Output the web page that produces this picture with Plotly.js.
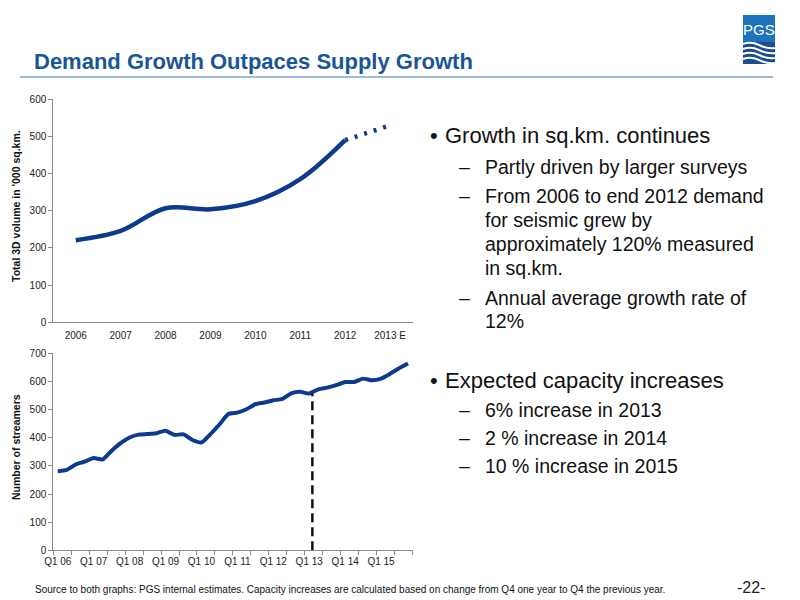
<!DOCTYPE html>
<html>
<head>
<meta charset="utf-8">
<script src="https://cdn.plot.ly/plotly-3.0.1.min.js"></script>
<style>html,body{margin:0;padding:0;background:#fff;}#chart{width:800px;height:600px;}</style>
</head>
<body>
<div id="chart"></div>
<script>
// ---- Data ----
const years = ["2006", "2007", "2008", "2009", "2010", "2011", "2012", "2013 E"];
const volumeActual = [221, 246, 307, 304, 326, 385, 490];      // '000 sq.km., 2006-2012
const volumeEstimate = [490, 530];                              // 2012 -> 2013 E
const quarters = [
  "Q1 06","Q2 06","Q3 06","Q4 06","Q1 07","Q2 07","Q3 07","Q4 07",
  "Q1 08","Q2 08","Q3 08","Q4 08","Q1 09","Q2 09","Q3 09","Q4 09",
  "Q1 10","Q2 10","Q3 10","Q4 10","Q1 11","Q2 11","Q3 11","Q4 11",
  "Q1 12","Q2 12","Q3 12","Q4 12","Q1 13","Q2 13","Q3 13","Q4 13",
  "Q1 14","Q2 14","Q3 14","Q4 14","Q1 15","Q2 15","Q3 15","Q4 15"
];
const streamers = [281, 286, 305, 315, 328, 323, 354, 381, 401, 411, 413, 416, 425, 410, 412, 392,
                   383, 413, 447, 484, 489, 501, 519, 525, 533, 538, 558, 563, 557, 572, 578, 587,
                   598, 598, 610, 604, 610, 627, 647, 664];
const quarterTickLabels = ["Q1 06","Q1 07","Q1 08","Q1 09","Q1 10","Q1 11","Q1 12","Q1 13","Q1 14","Q1 15"];
const dividerQuarter = "Q1 13";
const bullets1 = ["Growth in sq.km. continues"];
const sub1 = [
  ["Partly driven by larger surveys"],
  ["From 2006 to end 2012 demand", "for seismic grew by", "approximately 120% measured", "in sq.km."],
  ["Annual average growth rate of", "12%"]
];
const bullets2 = ["Expected capacity increases"];
const sub2 = [["6% increase in 2013"], ["2 % increase in 2014"], ["10 % increase in 2015"]];

// ---- Helpers ----
const W = 800, H = 600;
const fx = x => x / W;
const fy = y => 1 - y / H;
const FONT = "Liberation Sans, Arial, sans-serif";
const BLUE = "#0b3a8e";
const AXIS = "#8a8a8a";

const qIdx = quarters.map((q, i) => i);
const tickIdx = quarterTickLabels.map(l => quarters.indexOf(l));
const divX = quarters.indexOf(dividerQuarter) + 0.35;
const divTop = streamers[quarters.indexOf(dividerQuarter)];

const traces = [
  {x: years.slice(0, volumeActual.length), y: volumeActual, xaxis: "x", yaxis: "y",
   type: "scatter", mode: "lines", line: {color: BLUE, width: 4.5, shape: "spline", smoothing: 1}, hoverinfo: "skip"},
  {x: years.slice(volumeActual.length - 1), y: volumeEstimate, xaxis: "x", yaxis: "y",
   type: "scatter", mode: "lines", line: {color: BLUE, width: 4.5, dash: "3px,7px"}, hoverinfo: "skip"},
  {x: qIdx, y: streamers, xaxis: "x2", yaxis: "y2",
   type: "scatter", mode: "lines", line: {color: BLUE, width: 4, shape: "spline", smoothing: 0.6}, hoverinfo: "skip"}
];

const tickFont = {family: FONT, size: 10, color: "#222"};

const annotations = [];
function ann(text, x, y, size, opts) {
  annotations.push(Object.assign({
    text: text, x: fx(x), y: fy(y), xref: "paper", yref: "paper",
    xanchor: "left", yanchor: "middle", showarrow: false,
    font: {family: FONT, size: size, color: "#111"}
  }, opts || {}));
}
// Title
ann("<b>Demand Growth Outpaces Supply Growth</b>", 32, 62, 22, {font: {family: FONT, size: 22, color: "#1a5696"}});
// Right side text
const bulletX = 428, textX = 443, dashX = 457, subX = 483;
ann("•", bulletX, 135, 22); ann(bullets1[0], textX, 135, 22);
const ys1 = [[167], [196, 220, 244, 268], [298, 321]];
sub1.forEach((lines, i) => {
  ann("–", dashX, ys1[i][0], 19.5);
  lines.forEach((l, j) => ann(l, subX, ys1[i][j], 19.5));
});
ann("•", bulletX, 380, 22); ann(bullets2[0], textX, 380, 22);
const ys2 = [410, 438, 466];
sub2.forEach((lines, i) => { ann("–", dashX, ys2[i], 19.5); ann(lines[0], subX, ys2[i], 19.5); });
// Axis titles
ann("<b>Total 3D volume in '000 sq.km.</b>", 16, 206, 10.5, {textangle: -90, xanchor: "center"});
ann("<b>Number of streamers</b>", 16, 447, 10.5, {textangle: -90, xanchor: "center"});
// Footer
ann("Source to both graphs: PGS internal estimates. Capacity increases are calculated based on change from Q4 one year to Q4 the previous year.", 33, 589, 10, {font: {family: FONT, size: 10, color: "#111"}});
ann("-22-", 735, 587, 16, {font: {family: FONT, size: 16, color: "#222"}});
// Logo text
ann("PGS", 759, 29, 15, {xanchor: "center", font: {family: FONT, size: 15, color: "#ffffff"}});

// Shapes
const shapes = [
  {type: "line", xref: "paper", yref: "paper", x0: fx(20), x1: fx(773), y0: fy(77), y1: fy(77),
   line: {color: "#7ba6d4", width: 1.5}},
  {type: "line", xref: "x2", yref: "y2", x0: divX, x1: divX, y0: 0, y1: divTop,
   line: {color: "#111", width: 2.5, dash: "9px,5px"}},
  // logo box
  {type: "rect", xref: "paper", yref: "paper", x0: fx(743), x1: fx(775), y0: fy(64), y1: fy(15),
   fillcolor: "#1e73bd", line: {width: 0}},
  {type: "rect", xref: "paper", yref: "paper", x0: fx(743), x1: fx(775), y0: fy(64), y1: fy(42),
   fillcolor: "#1a4f8f", line: {width: 0}}
];
// logo waves (white strokes)
[44, 49, 54, 59].forEach(y0 => {
  const p = (x, y) => fx(x) + "," + fy(y);
  shapes.push({type: "path", xref: "paper", yref: "paper",
    path: "M" + p(743, y0) + " Q" + p(751, y0 - 3) + " " + p(759, y0 + 1) + " T" + p(775, y0 + 4),
    line: {color: "#ffffff", width: 2}});
});

const layout = {
  width: W, height: H, margin: {l: 0, r: 0, t: 0, b: 0},
  paper_bgcolor: "#fff", plot_bgcolor: "#fff", showlegend: false,
  font: {family: FONT},
  xaxis: {domain: [fx(53.3), fx(412.5)], anchor: "y", type: "category", categoryarray: years,
    range: [-0.5, years.length - 0.5], showline: true, linecolor: AXIS, linewidth: 1,
    ticks: "", showgrid: false, zeroline: false, tickfont: tickFont, ticklabelstandoff: 4, fixedrange: true},
  yaxis: {domain: [fy(322.3), fy(99.3)], anchor: "x", range: [0, 600], dtick: 100,
    showline: true, linecolor: AXIS, linewidth: 1, ticks: "outside", ticklen: 4, tickcolor: AXIS,
    showgrid: false, zeroline: false, tickfont: tickFont, fixedrange: true},
  xaxis2: {domain: [fx(53.3), fx(412.5)], anchor: "y2", range: [-0.5, quarters.length - 0.5],
    tickmode: "array", tickvals: tickIdx, ticktext: quarterTickLabels, ticks: "",
    minor: {ticks: "outside", ticklen: 4, tickcolor: AXIS, tick0: -0.5, dtick: 2, showgrid: false},
    showline: true, linecolor: AXIS, linewidth: 1, showgrid: false, zeroline: false,
    tickfont: tickFont, ticklabelstandoff: 2, fixedrange: true},
  yaxis2: {domain: [fy(550.3), fy(353.3)], anchor: "x2", range: [0, 700], dtick: 100,
    showline: true, linecolor: AXIS, linewidth: 1, ticks: "outside", ticklen: 4, tickcolor: AXIS,
    showgrid: false, zeroline: false, tickfont: tickFont, fixedrange: true},
  annotations: annotations,
  shapes: shapes
};

Plotly.newPlot("chart", traces, layout, {staticPlot: true, displayModeBar: false});
</script>
</body>
</html>
